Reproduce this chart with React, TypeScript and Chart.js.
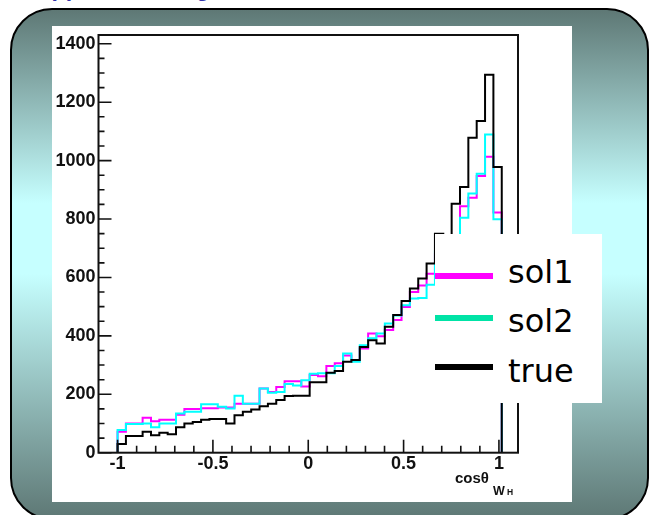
import { useEffect, useRef } from "react";
import { Chart, registerables } from "chart.js";

Chart.register(...registerables);

// Histogram binning: 46 equal bins starting at cos = -1
const histLow = -1.0;
const binWidth = 0.0438;

// Bin contents per reconstruction
const sol1Counts = [
  72, 100, 100, 120, 108, 113, 113, 130, 150, 150,
  152, 152, 155, 155, 168, 168, 168, 220, 208, 225,
  245, 245, 227, 266, 262, 297, 306, 333, 317, 357,
  408, 399, 420, 454, 499, 550, 572, 613, 680, 715,
  740, 844, 873, 947, 1013, 822,
];
const sol2Counts = [
  78, 98, 98, 100, 87, 100, 100, 134, 140, 140,
  166, 166, 157, 151, 195, 168, 168, 220, 205, 208,
  235, 230, 248, 270, 272, 272, 297, 340, 311, 368,
  392, 408, 442, 470, 505, 528, 530, 575, 690, 700,
  740, 804, 887, 955, 1089, 799,
];
const trueCounts = [
  30, 57, 57, 72, 60, 68, 63, 87, 100, 105,
  113, 115, 115, 100, 128, 140, 148, 159, 168, 180,
  194, 195, 195, 241, 241, 274, 280, 311, 317, 362,
  385, 374, 431, 471, 519, 562, 596, 648, 750, 738,
  852, 910, 1078, 1136, 1294, 978,
];

// Axis settings
const xMin = -1.1;
const xMax = 1.1;
const yMin = 0;
const yMax = 1430;
const xTickValues = [-1, -0.5, 0, 0.5, 1];
const yTickValues = [0, 200, 400, 600, 800, 1000, 1200, 1400];
const xMinorStep = 0.1;
const yMinorStep = 50;

const legendLabels = ["sol1", "sol2", "true"];
const legendColors = ["#ff00ff", "#00e3a6", "#000000"];

// Outline of a histogram as a polyline through bin corners
function outline(counts: number[]) {
  const pts: { x: number; y: number }[] = [{ x: histLow, y: 0 }];
  counts.forEach((c, i) => {
    pts.push({ x: histLow + i * binWidth, y: c });
    pts.push({ x: histLow + (i + 1) * binWidth, y: c });
  });
  pts.push({ x: histLow + counts.length * binWidth, y: 0 });
  return pts;
}

// Frame with inward ticks and the x-axis title, ROOT style
const rootFrame = {
  id: "rootFrame",
  afterDatasetsDraw(chart: any) {
    const { ctx, chartArea: a, scales } = chart;
    const x = scales.x;
    const y = scales.y;
    ctx.save();
    ctx.strokeStyle = "#111";
    ctx.lineWidth = 2;
    ctx.strokeRect(a.left, a.top, a.right - a.left, a.bottom - a.top);
    ctx.lineWidth = 1.6;
    ctx.beginPath();
    for (let k = 0; yMinorStep * k <= yTickValues[yTickValues.length - 1]; k++) {
      const v = yMinorStep * k;
      const py = y.getPixelForValue(v);
      const len = yTickValues.includes(v) ? 13 : 6;
      ctx.moveTo(a.left, py);
      ctx.lineTo(a.left + len, py);
    }
    for (let k = -10; k <= 10; k++) {
      const v = +(k * xMinorStep).toFixed(2);
      const px = x.getPixelForValue(v);
      const len = xTickValues.includes(v) ? 13 : 7;
      ctx.moveTo(px, a.bottom);
      ctx.lineTo(px, a.bottom - len);
    }
    ctx.stroke();

    ctx.fillStyle = "#111";
    ctx.textBaseline = "alphabetic";
    ctx.textAlign = "left";
    ctx.font = 'bold 15px "Liberation Sans"';
    ctx.fillText("cosθ", a.right - 63, a.bottom + 30.6);
    ctx.font = 'bold 12.5px "Liberation Sans"';
    ctx.fillText("W", a.right - 25, a.bottom + 42.3);
    ctx.font = 'bold 8.5px "Liberation Sans"';
    ctx.fillText("H", a.right - 11, a.bottom + 42.3);
    ctx.restore();
  },
};

function HistogramChart() {
  const ref = useRef<HTMLCanvasElement | null>(null);
  useEffect(() => {
    if (!ref.current) return;
    const tickFont = { family: "Liberation Sans", size: 18, weight: "bold" as const };
    const chart = new Chart(ref.current, {
      type: "line",
      data: {
        datasets: [
          { label: "true", data: outline(trueCounts), borderColor: "#000000" },
          { label: "sol2", data: outline(sol2Counts), borderColor: "#00ffff" },
          { label: "sol1", data: outline(sol1Counts), borderColor: "#ff00ff" },
        ].map((d) => ({
          ...d,
          borderWidth: 2,
          pointRadius: 0,
          fill: false,
          tension: 0,
        })),
      },
      options: {
        animation: false,
        responsive: false,
        devicePixelRatio: 1,
        layout: { padding: { top: 9, right: 54, left: 0, bottom: 0 } },
        plugins: { legend: { display: false }, tooltip: { enabled: false } },
        scales: {
          x: {
            type: "linear",
            min: xMin,
            max: xMax,
            grid: { display: false, drawTicks: false },
            border: { display: false },
            afterBuildTicks: (s: any) => {
              s.ticks = xTickValues.map((value) => ({ value }));
            },
            afterFit: (s: any) => {
              s.height = 49.3;
              s.paddingLeft = 0;
              s.paddingRight = 0;
            },
            ticks: {
              font: tickFont,
              color: "#111",
              padding: 1,
              maxRotation: 0,
              autoSkip: false,
              callback: (v: any) => String(v),
            },
          },
          y: {
            type: "linear",
            min: yMin,
            max: yMax,
            grid: { display: false, drawTicks: false },
            border: { display: false },
            afterBuildTicks: (s: any) => {
              s.ticks = yTickValues.map((value) => ({ value }));
            },
            afterFit: (s: any) => {
              s.width = 46.5;
              s.paddingTop = 0;
              s.paddingBottom = 0;
            },
            ticks: {
              font: tickFont,
              color: "#111",
              padding: 3,
              autoSkip: false,
              callback: (v: any) => String(v),
            },
          },
        },
      },
      plugins: [rootFrame],
    });
    return () => chart.destroy();
  }, []);
  return (
    <canvas
      ref={ref}
      width={520}
      height={476}
      style={{ position: "absolute", left: 52, top: 26, width: 520, height: 476 }}
    />
  );
}

export default function App() {
  const dark = "rgb(94,120,117)";
  const light = "rgb(198,255,255)";
  return (
    <div
      style={{
        position: "fixed",
        left: 0,
        top: 0,
        width: 650,
        height: 515,
        overflow: "hidden",
        background: "#fff",
        fontFamily: '"Liberation Sans", sans-serif',
      }}
    >
      <div
        style={{
          position: "absolute",
          left: 35,
          top: -23,
          fontSize: 23,
          lineHeight: "23px",
          fontWeight: "bold",
          color: "#3333aa",
          whiteSpace: "nowrap",
        }}
      >
        Approach using
      </div>
      <div
        style={{
          position: "absolute",
          left: 10,
          top: 8,
          width: 639,
          height: 512,
          boxSizing: "border-box",
          border: "2px solid #000",
          borderRadius: 42,
          background: `linear-gradient(to bottom, ${dark} 0%, ${light} 38%, ${light} 52%, ${dark} 100%)`,
        }}
      />
      <div
        style={{
          position: "absolute",
          left: 52,
          top: 26,
          width: 520,
          height: 476,
          background: "#fff",
        }}
      />
      <HistogramChart />
      <div
        style={{
          position: "absolute",
          left: 435,
          top: 234,
          width: 167,
          height: 169,
          background: "#fff",
        }}
      >
        {legendLabels.map((label, i) => {
          const lineCenters = [42, 84, 133];
          const baselines = [52, 101, 151];
          return (
            <div key={label}>
              <div
                style={{
                  position: "absolute",
                  left: 0,
                  top: lineCenters[i] - 3,
                  width: 58,
                  height: 6,
                  background: legendColors[i],
                }}
              />
              <div
                style={{
                  position: "absolute",
                  left: 73,
                  top: baselines[i] - 30,
                  fontFamily: '"DejaVu Sans", sans-serif',
                  fontSize: 32,
                  lineHeight: "32px",
                  color: "#000",
                  whiteSpace: "nowrap",
                }}
              >
                {label}
              </div>
            </div>
          );
        })}
      </div>
    </div>
  );
}
